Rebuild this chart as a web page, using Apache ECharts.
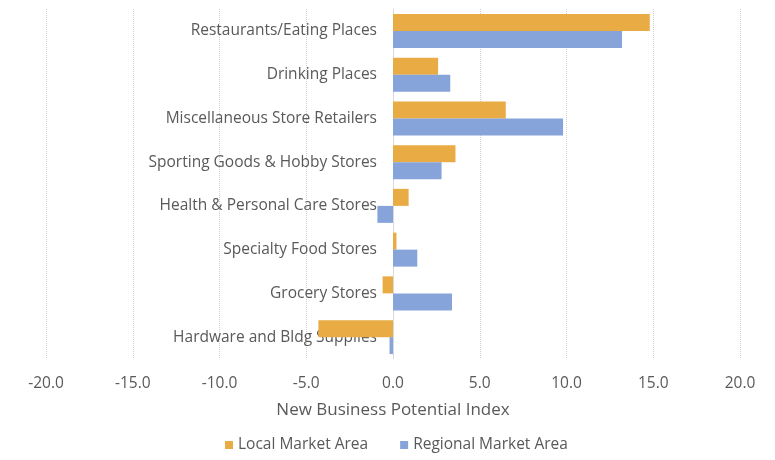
<!DOCTYPE html>
<html>
<head>
<meta charset="utf-8">
<script src="https://cdn.jsdelivr.net/npm/echarts@6/dist/echarts.min.js"></script>
<style>
  html, body { margin: 0; padding: 0; background: #fff; }
  #chart { width: 775px; height: 460px; }
</style>
</head>
<body>
<div id="chart"></div>
<script>
const categories = [
  'Restaurants/Eating Places',
  'Drinking Places',
  'Miscellaneous Store Retailers',
  'Sporting Goods & Hobby Stores',
  'Health & Personal Care Stores',
  'Specialty Food Stores',
  'Grocery Stores',
  'Hardware and Bldg Supplies'
]
const localMarket = [14.8, 2.6, 6.5, 3.6, 0.9, 0.2, -0.6, -4.3]
const regionalMarket = [13.2, 3.3, 9.8, 2.8, -0.9, 1.4, 3.4, -0.2]

const textColor = '#595959'
const fontFamily = '"Open Sans", Lato, sans-serif'

const chart = echarts.init(document.getElementById('chart'))

chart.setOption({
  animation: false,
  textStyle: { fontFamily: fontFamily },
  grid: {
    left: 46,
    right: 35,
    top: 9,
    height: 350,
    outerBoundsMode: 'none'
  },
  legend: {
    bottom: 2,
    left: 220,
    itemWidth: 8,
    itemHeight: 8,
    itemGap: 32,
    icon: 'rect',
    textStyle: { color: textColor, fontSize: 15.5, fontFamily: fontFamily },
    data: ['Local Market Area', 'Regional Market Area']
  },
  xAxis: {
    type: 'value',
    min: -20,
    max: 20,
    interval: 5,
    name: 'New Business Potential Index',
    nameLocation: 'middle',
    nameGap: 43,
    nameTextStyle: { color: textColor, fontSize: 17 },
    axisLine: { show: false },
    axisTick: { show: false },
    axisLabel: {
      color: textColor,
      fontSize: 15.5,
      margin: 17,
      formatter: (v) => v.toFixed(1)
    },
    splitLine: {
      show: true,
      lineStyle: { color: '#d0d0d0', type: 'dotted', width: 1 }
    }
  },
  yAxis: {
    type: 'category',
    inverse: true,
    data: categories,
    offset: -347,
    axisLine: {
      show: true,
      onZero: false,
      lineStyle: { color: '#d9d9d9', width: 1 }
    },
    axisTick: { show: false },
    axisLabel: {
      color: textColor,
      fontSize: 15.5,
      margin: 16
    }
  },
  series: [
    {
      name: 'Local Market Area',
      type: 'bar',
      color: '#E9AB43',
      barWidth: 17,
      barGap: '0%',
      data: localMarket
    },
    {
      name: 'Regional Market Area',
      type: 'bar',
      color: '#86A4DA',
      barWidth: 17,
      barGap: '0%',
      data: regionalMarket
    }
  ]
})
</script>
</body>
</html>
